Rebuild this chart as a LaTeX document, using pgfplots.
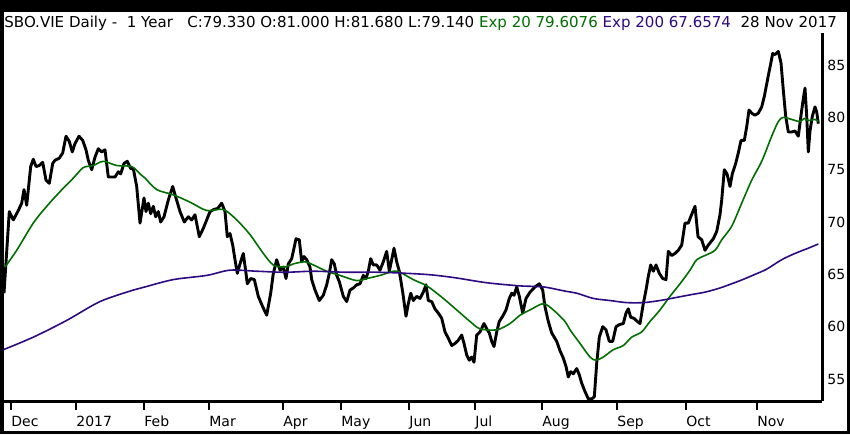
\documentclass[border=0pt]{standalone}
\usepackage{pgfplots}
\pgfplotsset{compat=1.18}
\usepackage{fontspec}
\setmainfont{DejaVu Sans}
\definecolor{emagreen}{RGB}{0,110,0}
\definecolor{emablue}{RGB}{45,10,130}
\begin{document}
\begin{tikzpicture}
\useasboundingbox (0,0) rectangle (425pt,217pt);
\fill[black] (0,0) rectangle (425pt,217pt);
\fill[white] (2pt,1.5pt) rectangle (423.5pt,211pt);
\node[anchor=base west, inner sep=0pt, font=\fontsize{7.52pt}{8.5pt}\selectfont] at (2pt,203.3pt) {SBO.VIE Daily -\ \ 1 Year\ \ \ C:79.330 O:81.000 H:81.680 L:79.140 \textcolor{emagreen}{Exp 20 79.6076} \textcolor{emablue}{Exp 200 67.6574}\ \ 28 Nov 2017};
\begin{axis}[
  at={(1.5pt,16.5pt)}, anchor=south west,
  scale only axis, width=409.5pt, height=184pt,
  xmin=3, xmax=822, ymin=52.9, ymax=88.06,
  axis x line=bottom, axis y line=right,
  axis line style={line width=1.5pt, -},
  tick align=outside, major tick length=4.5pt,
  xtick={11,76,144,209,283,341,409,475,542,617,686,757},
  xticklabels={Dec,2017,Feb,Mar,Apr,May,Jun,Jul,Aug,Sep,Oct,Nov},
  ytick={55,60,65,70,75,80,85},
  yticklabels={55,60,65,70,75,80,85},
  xtick style={line width=1pt, black},
  ytick style={draw=none},
  ticklabel style={font=\fontsize{7pt}{8pt}\selectfont, inner sep=0pt},
  xticklabel style={anchor=base west, yshift=-8.4pt},
  yticklabel style={anchor=west, xshift=-2pt},
  clip=true,
]
\addplot[black, line width=1.45pt, line join=round] coordinates {
(4,63.2) (9.3,71.0) (13.3,70.2) (18.3,71.1) (21.7,71.8) (24,73.1) (26.7,71.6) (30.7,75.3) (33.3,76.0) (36,75.3) (39.3,75.4) (42.7,75.7) (46,74.0) (49.3,73.7) (52.7,75.6) (55,75.9) (59.3,76.1) (62.7,76.6) (66,78.2) (69.3,77.7) (72.3,76.7) (75,77.5) (79,78.2) (82.7,77.8) (86,76.9) (88.3,75.9) (91.7,75.0) (95,76.2) (98.3,77.0) (101.7,76.7) (105,76.9) (108.3,74.3) (111.7,74.3) (115,74.3) (118.3,74.8) (120.7,74.6) (124,75.6) (127.3,75.8) (130.7,75.1) (133.3,75.1) (136.7,73.4) (140,69.9) (144,72.3) (146,71.0) (148.3,71.8) (150.7,70.8) (153.3,71.5) (155.7,70.5) (158.3,71.0) (160.7,70.0) (164,70.5) (168.3,72.1) (172.7,73.4) (176,72.3) (180,71.0) (184.3,70.0) (188.3,70.5) (191.7,70.2) (195,70.7) (199.3,68.6) (203.3,69.4) (206.7,70.2) (210,71.0) (214,71.2) (217.7,71.3) (221.7,71.8) (225,71.0) (227.3,68.6) (230,68.9) (232.7,67.8) (235,66.4) (237.3,65.1) (240,66.0) (243.3,67.0) (246,65.1) (247.3,64.1) (250.7,64.6) (254.3,64.5) (258.3,62.9) (262.7,61.9) (266.7,61.1) (270.7,63.2) (273.3,65.1) (276.7,66.4) (280,65.4) (283.3,65.7) (286,64.6) (288.3,66.0) (291.7,66.5) (294,67.5) (296,68.4) (299.3,68.3) (301.7,66.2) (304,66.7) (306.7,66.4) (310,65.7) (311.7,64.5) (315,63.5) (319.3,62.5) (323.3,63.0) (326.7,64.0) (329.3,65.1) (331.7,66.4) (334.3,66.0) (336.7,64.9) (339.3,64.3) (343.3,62.9) (346.7,62.4) (350,63.5) (353.3,63.7) (356.7,64.0) (360,64.1) (363.3,64.9) (366,64.6) (368.3,65.3) (370.7,66.5) (373.3,65.9) (376.7,65.9) (380,65.4) (383.3,66.2) (386.7,67.2) (389.3,65.3) (391.7,66.4) (394,67.5) (396.7,66.2) (399.3,65.3) (402.7,63.3) (406,61.0) (408.3,62.2) (410.7,63.2) (413.3,62.5) (416.7,62.9) (420,62.7) (423.3,63.3) (426,64.0) (428.3,62.5) (431.7,62.4) (435,61.7) (438.3,61.3) (441.7,60.8) (445,59.5) (448.3,58.9) (451.7,58.2) (455,58.4) (458.3,58.7) (461.7,59.2) (464,58.4) (466.7,57.3) (469.3,56.8) (471.7,57.1) (474,56.6) (476.7,59.2) (480,59.5) (484,60.3) (486.7,59.8) (489.3,59.4) (491.7,58.6) (494,58.1) (496.7,59.5) (499.3,60.5) (502.7,61.0) (506,61.6) (509.3,62.7) (511.7,63.2) (514,63.0) (516.7,63.8) (519.3,62.9) (522.7,61.3) (526,62.7) (530,63.3) (535,63.8) (539.3,64.1) (542.7,63.5) (545,61.9) (548.3,60.5) (551.7,59.4) (556.7,58.6) (560,57.7) (563.3,57.0) (566,56.2) (568.3,55.2) (570.7,55.7) (573.3,55.5) (576.7,56.0) (579.3,55.4) (581.7,54.6) (585,53.8) (588.3,53.1) (591.7,53.1) (594.3,53.3) (596.7,56.5) (599.3,59.0) (602.7,60.0) (606,59.7) (609.3,58.6) (612.7,58.6) (616,60.0) (619.3,60.2) (623.3,60.3) (626,61.3) (628.3,61.7) (630.7,60.9) (634,60.8) (637.3,60.5) (640,60.3) (643.3,62.2) (646,63.5) (648.3,64.8) (650.7,65.9) (653.3,65.3) (656,65.9) (659.3,65.1) (662.7,64.6) (666,64.5) (668.3,67.2) (671.7,66.8) (675,67.0) (678.3,67.3) (681.7,67.8) (685,69.9) (688.3,69.9) (690.7,70.5) (695,71.5) (698,68.6) (701.7,68.3) (705,67.3) (708.3,67.8) (713.3,68.4) (716.7,69.1) (720,70.7) (721.7,72.1) (724.3,75.0) (727,74.6) (730,73.4) (732.3,74.6) (735.7,75.6) (738.3,76.6) (741,77.8) (744.3,77.8) (746.7,79.1) (749,80.7) (751.7,80.4) (755,80.2) (758.3,80.4) (761.7,81.0) (764.3,82.0) (766.7,83.2) (770,84.8) (772.7,86.1) (775,86.0) (778.3,86.3) (781,85.2) (783.3,82.6) (785.7,80.1) (788.3,78.6) (791.7,78.6) (795,78.7) (798.3,78.2) (801,80.2) (803.3,81.8) (805,82.8) (806.7,80.1) (808.3,76.7) (810,78.7) (812.3,80.1) (815,81.0) (816.7,80.5) (818.3,79.4)
};
\addplot[emagreen, line width=0.8pt, line join=round, smooth] coordinates {
(5,65.7) (16.7,67.3) (33.3,69.9) (46.7,71.5) (60,72.9) (73.3,74.2) (83.3,75.2) (93.3,75.4) (103.3,75.8) (116.7,75.4) (131.7,75.3) (140,74.6) (145,74.2) (156.7,73.1) (173.3,72.6) (190,71.9) (206.7,71.1) (223.3,71.2) (236.7,70.2) (250,68.8) (263.3,67.0) (273.3,65.9) (285,65.7) (293.3,66.0) (305,66.2) (313.3,65.9) (326.7,65.3) (340,64.9) (356.7,64.4) (366.7,64.6) (380,64.9) (393.3,65.3) (400,65.2) (413.3,64.5) (425,64.0) (430,63.7) (443.3,62.7) (456.7,61.6) (470,60.5) (480,59.8) (496.7,59.7) (510,60.3) (520,61.1) (530,61.6) (543.3,62.2) (553.3,61.6) (565,60.5) (570,59.7) (580,58.4) (590,57.1) (596,56.8) (603.3,57.1) (613.3,57.8) (623.3,58.2) (631.7,59.0) (641.7,59.5) (650,60.5) (660,61.6) (670,62.9) (680,64.1) (690,65.4) (696.7,66.4) (705,66.8) (715,67.3) (721.7,68.3) (731.7,69.6) (741.7,71.8) (751.7,74.0) (761.7,75.8) (771.7,78.2) (778.3,79.6) (783.3,80.0) (791.7,79.8) (800,79.6) (804.3,79.9) (808.3,79.7) (815,79.8) (818.3,79.6)
};
\addplot[emablue, line width=0.8pt, smooth] coordinates {
(3.3,57.8) (33.3,59.0) (66.7,60.6) (100,62.4) (133.3,63.5) (145,63.8) (173.3,64.5) (206.7,64.9) (230,65.4) (256.7,65.3) (285,65.2) (313.3,65.3) (346.7,65.2) (380,65.2) (425,65.0) (453.3,64.7) (486.7,64.2) (520,63.9) (543.3,63.8) (565,63.4) (576.7,63.2) (593.3,62.7) (610,62.5) (626.7,62.3) (643.3,62.3) (660,62.5) (676.7,62.8) (693.3,63.1) (705,63.3) (720,63.7) (740,64.4) (755,65.0) (766.7,65.5) (781.7,66.4) (795,67.0) (808.3,67.5) (818.3,67.9)
};
\end{axis}
\end{tikzpicture}
\end{document}
